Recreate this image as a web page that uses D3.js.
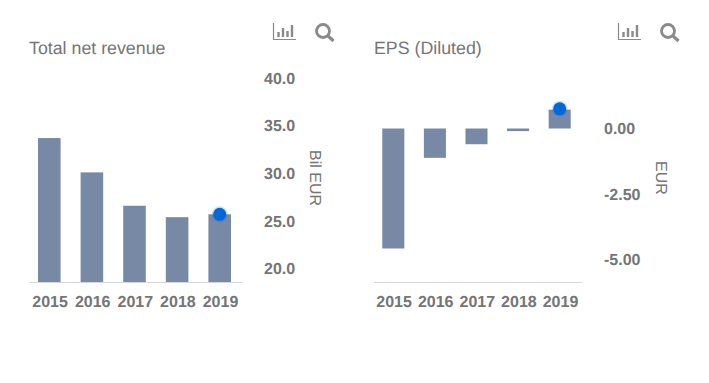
<!DOCTYPE html>
<html>
<head>
<meta charset="utf-8">
<script src="https://cdnjs.cloudflare.com/ajax/libs/d3/7.8.5/d3.min.js"></script>
<style>
body { margin: 0; background: #fff; }
text { font-family: "Liberation Sans", Arial, sans-serif; fill: #757575; text-rendering: geometricPrecision; }
.title { font-size: 17.8px; }
.unit { font-size: 16px; }
.tick text { font-size: 16px; font-weight: bold; fill: #757575; }
</style>
</head>
<body>
<div id="chart-area"></div>
<script>
var years = ["2015", "2016", "2017", "2018", "2019"];
var revenue = [33.7, 30.1, 26.6, 25.4, 25.7];
var revenueDot = [25.7];
var revenueTicks = [20, 25, 30, 35, 40];
var eps = [-4.58, -1.12, -0.6, -0.1, 0.72];
var epsDot = [0.75];
var epsTicks = [-5, -2.5, 0];

var barColor = "#7889a6";
var dotColor = "#0069d9";
var baseY = 282;

var svg = d3.select("#chart-area")
	.append("svg")
		.attr("width", 709)
		.attr("height", 383);

function drawPanel(o) {
	var g = svg.append("g");

	var x = d3.scaleBand()
		.domain(years)
		.range(o.xRange)
		.paddingInner(0.47)
		.paddingOuter(0.235);

	var y = d3.scaleLinear()
		.domain(o.yDomain)
		.range(o.yRange);

	g.selectAll("rect")
		.data(o.values)
		.enter()
		.append("rect")
			.attr("x", (d, i) => { return x(years[i]); })
			.attr("y", (d) => { return o.fromZero ? Math.min(y(d), y(0)) : y(d); })
			.attr("width", x.bandwidth())
			.attr("height", (d) => { return o.fromZero ? Math.abs(y(d) - y(0)) : baseY - y(d); })
			.attr("fill", barColor);

	// highlighted last point
	var dots = g.selectAll("g.dot")
		.data(o.dot)
		.enter()
		.append("g")
			.attr("class", "dot")
			.attr("transform", (d) => { return "translate(" + (x("2019") + x.bandwidth() / 2) + "," + y(d) + ")"; });
	dots.append("circle").attr("r", 8).attr("fill", dotColor).attr("fill-opacity", 0.2);
	dots.append("circle").attr("r", 6.5).attr("fill", dotColor);

	var bottomAxis = d3.axisBottom(x).tickSize(0).tickPadding(14);
	var xg = g.append("g")
		.attr("transform", "translate(0," + baseY + ")")
		.call(bottomAxis);
	xg.select(".domain")
		.attr("stroke", "#d3d6da")
		.attr("stroke-width", 1.2)
		.attr("transform", "translate(1,0)");
	xg.selectAll(".tick text").attr("dx", 0.8);

	var rightAxis = d3.axisRight(y)
		.tickValues(o.ticks)
		.tickSize(0)
		.tickPadding(0)
		.tickFormat((d) => { return o.format(d).replace("\u2212", "-"); });
	var yg = g.append("g")
		.attr("transform", "translate(" + o.tickX + ",0)")
		.call(rightAxis);
	yg.select(".domain").remove();

	g.append("text")
		.attr("class", "title")
		.attr("x", o.titleX)
		.attr("y", 54)
		.text(o.title);

	g.append("text")
		.attr("class", "unit")
		.attr("text-anchor", "middle")
		.attr("transform", "translate(" + o.unitX + ",178) rotate(90)")
		.text(o.unit);

	// chart type and search icons
	var ic = g.append("g")
		.attr("transform", "translate(" + o.iconX + ",0)")
		.attr("fill", "none")
		.attr("stroke", "#8a8a8a");
	ic.append("path").attr("stroke-width", 1.2).attr("d", "M0.5 23V39.5H23");
	ic.append("path").attr("stroke-width", 2.4).attr("d", "M5.5 37V32M10 37V28M14.5 37V31M19 37V25");
	ic.append("circle").attr("cx", 50).attr("cy", 31).attr("r", 6.5).attr("stroke-width", 2.8);
	ic.append("path").attr("stroke-width", 3.2).attr("d", "M55 36L60.5 41");
}

drawPanel({
	title: "Total net revenue",
	unit: "Bil EUR",
	values: revenue,
	dot: revenueDot,
	ticks: revenueTicks,
	format: d3.format(".1f"),
	xRange: [28, 241],
	yDomain: [18.6, 40],
	yRange: [282, 78],
	fromZero: false,
	titleX: 29,
	tickX: 264,
	unitX: 310,
	iconX: 273
});

drawPanel({
	title: "EPS (Diluted)",
	unit: "EUR",
	values: eps,
	dot: epsDot,
	ticks: epsTicks,
	format: d3.format(".2f"),
	xRange: [372.5, 580.5],
	yDomain: [-5, 0],
	yRange: [259.5, 128.5],
	fromZero: true,
	titleX: 374,
	tickX: 604,
	unitX: 656,
	iconX: 618
});
</script>
</body>
</html>
